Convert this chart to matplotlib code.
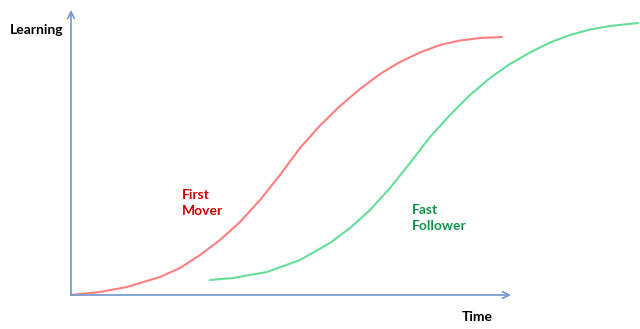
import matplotlib
matplotlib.use("Agg")
import matplotlib.pyplot as plt

# First mover curve (time, learning)
mover_time = [0, 29, 56, 89, 109, 129, 149, 169, 189, 209, 229, 249, 269,
              289, 309, 329, 349, 369, 389, 409, 431]
mover_learn = [0, 3, 8, 18, 27, 40, 55, 73, 95, 120, 147, 169.5, 189,
               206, 221, 233, 242.5, 250, 254.5, 257, 258]

# Fast follower curve
follower_time = [139, 162, 196, 229, 259, 279, 299, 319, 339, 359, 379, 399,
                 419, 439, 459, 479, 499, 519, 539, 567]
follower_learn = [15, 17, 23, 35, 52, 67, 85, 107, 132, 158, 180, 200,
                  217, 231, 242.5, 252.5, 260, 265.5, 269, 272]

x_label = "Time"
y_label = "Learning"
mover_label = "First\nMover"
follower_label = "Fast\nFollower"

plt.rcParams['font.family'] = ['Lato', 'DejaVu Sans']

fig = plt.figure(figsize=(6.4, 3.29), dpi=100)
ax = fig.add_axes([0, 0, 1, 1])
ax.set_xlim(-71, 569)
ax.set_ylim(-34, 295)
ax.axis('off')

axis_col = '#6F96CF'
# axes with open arrow heads
ax.annotate('', xy=(440, 0), xytext=(0, 0),
            arrowprops=dict(arrowstyle='->', color=axis_col, lw=1.2,
                            mutation_scale=12, shrinkA=0, shrinkB=0))
ax.annotate('', xy=(0, 285), xytext=(0, 0),
            arrowprops=dict(arrowstyle='->', color=axis_col, lw=1.2,
                            mutation_scale=12, shrinkA=0, shrinkB=0))

ax.plot(mover_time, mover_learn, color='#FF7F7F', lw=1.5,
        solid_capstyle='round', solid_joinstyle='round')
ax.plot(follower_time, follower_learn, color='#66DD99', lw=1.5,
        solid_capstyle='round', solid_joinstyle='round')

ax.text(-61, 261, y_label, fontsize=10, fontweight='bold', color='black', va='baseline')
ax.text(391, -26, x_label, fontsize=10, fontweight='bold', color='black', va='baseline')
ax.text(111, 80, mover_label, fontsize=10, fontweight='bold', color='#CC0000',
        va='baseline', linespacing=1.4)
ax.text(341, 65, follower_label, fontsize=10, fontweight='bold', color='#12934A',
        va='baseline', linespacing=1.4)

fig.savefig('out.png', dpi=100)
